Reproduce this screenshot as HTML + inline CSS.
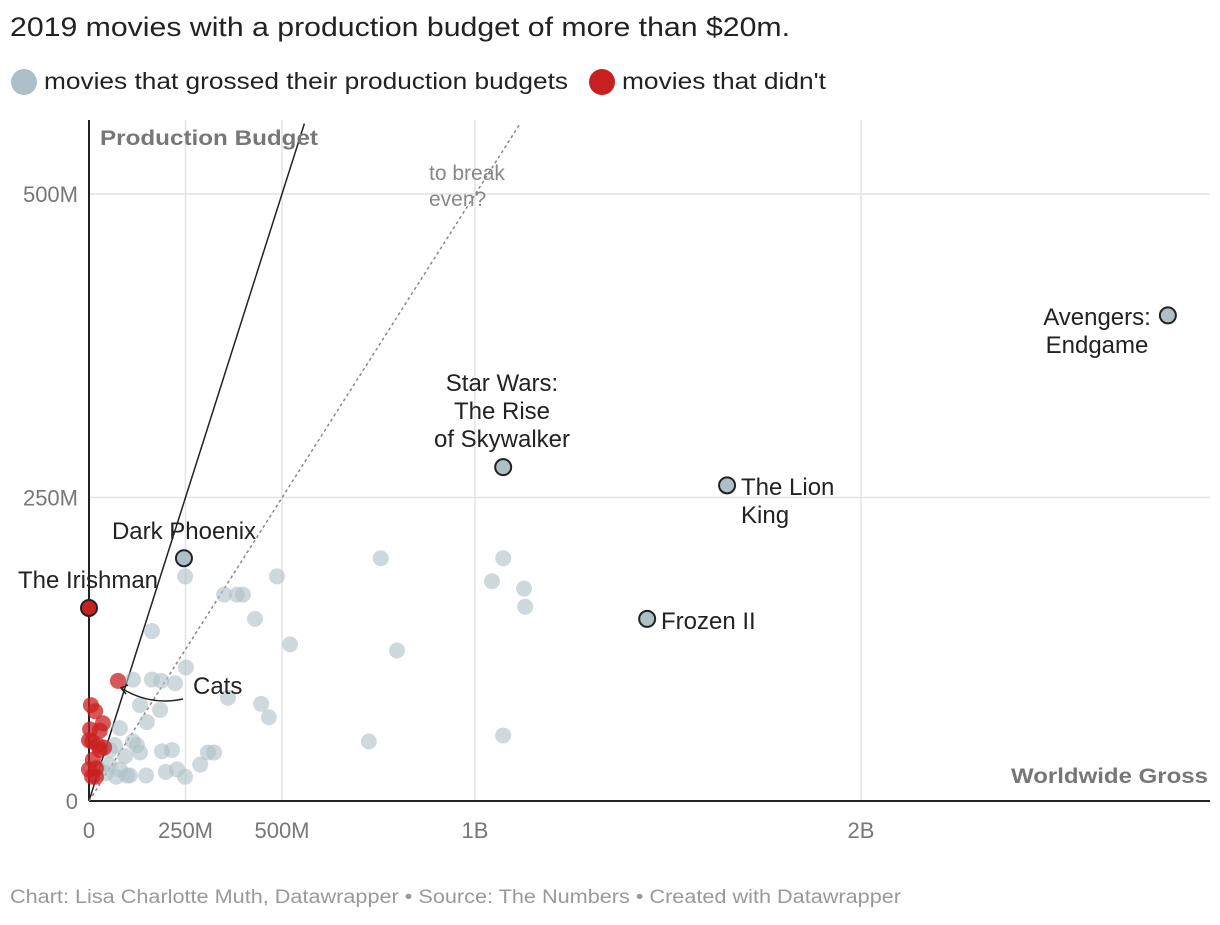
<!DOCTYPE html>
<html><head><meta charset="utf-8"><style>
body{margin:0;background:#fff;font-family:"Liberation Sans",sans-serif;}
svg text{font-family:"Liberation Sans",sans-serif;}
</style></head><body>
<svg id="c" width="1220" height="920">
<text x="10" y="36" font-size="27" fill="#222" textLength="780" lengthAdjust="spacingAndGlyphs">2019 movies with a production budget of more than $20m.</text>
<g>
<circle cx="24" cy="82" r="13" fill="#adbfc7"/>
<text x="44" y="89" font-size="23" fill="#222" textLength="524" lengthAdjust="spacingAndGlyphs">movies that grossed their production budgets</text>
<circle cx="602" cy="82" r="13" fill="#c91f1f"/>
<text x="622" y="89" font-size="23" fill="#222" textLength="204" lengthAdjust="spacingAndGlyphs">movies that didn't</text>
</g>
<g id="grid"></g><g id="lines"></g><g id="pts"></g><g id="labels"></g>
<text x="1208" y="783" font-size="21" font-weight="bold" fill="#777" text-anchor="end" textLength="197" lengthAdjust="spacingAndGlyphs">Worldwide Gross</text>
<text x="100" y="145" font-size="21" font-weight="bold" fill="#777" textLength="218" lengthAdjust="spacingAndGlyphs">Production Budget</text>
<text x="429" y="180" font-size="21" fill="#888">to break</text>
<text x="429" y="206" font-size="21" fill="#888">even?</text>
<text x="10" y="903" font-size="19" fill="#999" textLength="891" lengthAdjust="spacingAndGlyphs">Chart: Lisa Charlotte Muth, Datawrapper • Source: The Numbers • Created with Datawrapper</text>
</svg>
<script>
const xTicks=[0,250,500,1000,2000];
const xTickLabels=["0","250M","500M","1B","2B"];
const yTicks=[0,250,500];
const yTickLabels=["0","250M","500M"];
const grayGross=[249,487,756,1073,1044,1127,1130,350,383,399,430,163,521,798,251,114,163,187,223,360,132,446,466,184,150,725,1073,80,114,132,189,215,308,324,67,54,93,26,52,80,106,148,199,228,249,98,70,44,288,124];
const grayBudget=[185,185,200,200,181,175,160,170,170,170,150,140,129,124,110,100,100,99,97,85,79,80,69,75,65,49,54,60,49,40,41,42,40,40,46,42,37,26,30,26,21,21,24,26,20,21,20,23,30,46];
const redGross=[75,5,16,36,3,28,8,23,39,10,18,0,8,18,0,28];
const redBudget=[99,79,74,64,59,58,49,46,44,34,27,26,20,20,50,42];
const hlNames=["Avengers: Endgame","Star Wars: The Rise of Skywalker","The Lion King","Frozen II","Dark Phoenix","The Irishman"];
const hlGross=[2795,1073,1653,1446,246,0];
const hlBudget=[400,275,260,150,200,159];
const X=v=>89+v*0.386, Y=v=>801-v*1.214;
const NS="http://www.w3.org/2000/svg";
function mk(p,t,a){const e=document.createElementNS(NS,t);for(const k in a)e.setAttribute(k,a[k]);document.getElementById(p).appendChild(e);return e;}
xTicks.forEach((v,i)=>{
 if(v>0){const g=mk('grid','line',{x1:X(v),x2:X(v),y1:120,y2:801,stroke:'#e4e4e4','stroke-width':1.5});
 
 }
 const t=mk('grid','text',{x:X(v),y:838,'font-size':22,fill:'#777','text-anchor':'middle'});t.textContent=xTickLabels[i];
 
 
});
yTicks.forEach((v,i)=>{
 if(v>0){const g=mk('grid','line',{x1:89,x2:1210,y1:Y(v),y2:Y(v),stroke:'#e4e4e4','stroke-width':1.5});
 
 }
 const t=mk('grid','text',{x:78,y:Y(v)+8,'font-size':22,fill:'#777','text-anchor':'end'});t.textContent=yTickLabels[i];
 
 
});
let a=mk('lines','line',{x1:89,y1:120,x2:89,y2:801,stroke:'#222','stroke-width':2});


a=mk('lines','line',{x1:89,y1:801,x2:1210,y2:801,stroke:'#222','stroke-width':2});


a=mk('lines','line',{x1:X(0),y1:Y(0),x2:X(558),y2:Y(558),stroke:'#222','stroke-width':1.5});


a=mk('lines','line',{x1:X(0),y1:Y(0),x2:X(1117),y2:Y(558),stroke:'#888','stroke-width':1.5,'stroke-dasharray':'3,3'});


grayGross.forEach((g,i)=>{const c=mk('pts','circle',{cx:X(g),cy:Y(grayBudget[i]),r:8,fill:'#adbfc7','fill-opacity':0.6});
 
 });
redGross.forEach((g,i)=>{const c=mk('pts','circle',{cx:X(g),cy:Y(redBudget[i]),r:8,fill:'#c91f1f','fill-opacity':0.75});
 
 });
hlGross.forEach((g,i)=>{const c=mk('pts','circle',{cx:X(g),cy:Y(hlBudget[i]),r:8,fill:i==5?'#c91f1f':'#adbfc7',stroke:'#222','stroke-width':2});
 
 });
function lab(lines,x,y,anchor){lines.forEach((s,j)=>{const t=mk('labels','text',{x:x,y:y+j*28,'font-size':24,fill:'#222','text-anchor':anchor});t.textContent=s;
 
 });}
lab(["Avengers:","Endgame"],1097,325,'middle');
lab(["Star Wars:","The Rise","of Skywalker"],502,391,'middle');
lab(["The Lion","King"],741,495,'start');
lab(["Frozen II"],661,629,'start');
lab(["Dark Phoenix"],184,539,'middle');
lab(["The Irishman"],88,588,'middle');
lab(["Cats"],193,694,'start');
a=mk('labels','path',{d:'M183,699 Q150,706 121,688',fill:'none',stroke:'#222','stroke-width':1.5});


a=mk('labels','path',{d:'M128,685 L121,688 L126,694',fill:'none',stroke:'#222','stroke-width':1.5});


</script>
</body></html>
